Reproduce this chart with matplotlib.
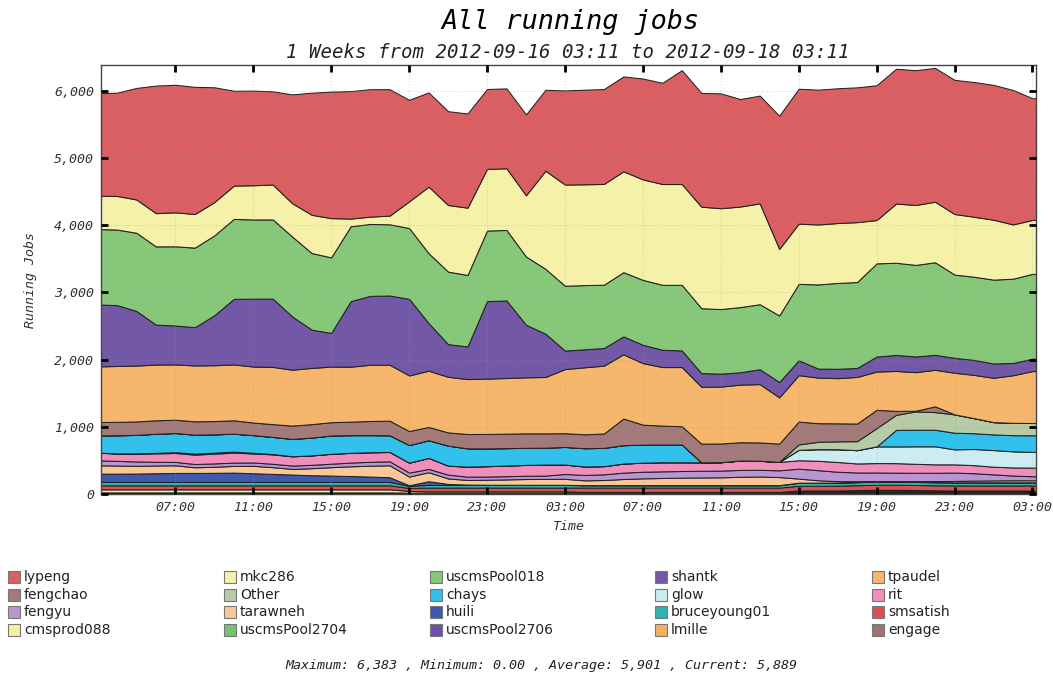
import matplotlib
matplotlib.use("Agg")
import matplotlib.pyplot as plt
from matplotlib.patches import Rectangle
from matplotlib.ticker import FuncFormatter

# hourly samples, hours since 2012-09-16 00:00 (03:00 day 1 .. 04:00 day 3)
hours = list(range(3, 53))

# legend order (row-major), also top-to-bottom stacking order
names = ["lypeng", "mkc286", "uscmsPool018", "shantk", "tpaudel",
         "fengchao", "Other", "chays", "glow", "rit",
         "fengyu", "tarawneh", "huili", "bruceyoung01", "smsatish",
         "cmsprod088", "uscmsPool2704", "uscmsPool2706", "lmille", "engage"]

colors = ["#da5f62", "#f6f1a8", "#86c77a", "#7258a6", "#f6b66c",
          "#a37a7a", "#b7cba6", "#31c1ec", "#cdecf1", "#f08fbc",
          "#b996d2", "#fac896", "#3e59b0", "#2db4af", "#dc5050",
          "#f5f0a0", "#78c36e", "#6e50a5", "#f5af64", "#a07373"]

lypeng = [1525, 1535, 1659, 1897, 1897, 1891, 1708, 1411, 1407, 1386,
          1619, 1816, 1881, 1896, 1895, 1880, 1510, 1401, 1395, 1401,
          1188, 1188, 1203, 1203, 1400, 1407, 1411, 1411, 1500, 1505,
          1693, 1692, 1708, 1599, 1603, 1980, 2006, 2005, 2004, 2005,
          2005, 2004, 2005, 1990, 1995, 2004, 2005, 2000, 1810, 1810]
mkc286 = [495, 500, 495, 495, 505, 500, 495, 495, 509, 519,
          496, 569, 584, 114, 109, 129, 396, 990, 991, 1000,
          917, 917, 910, 1460, 1505, 1499, 1499, 1500, 1495, 1499,
          1499, 1510, 1500, 1495, 1500, 990, 896, 891, 891, 891,
          644, 881, 891, 901, 901, 892, 891, 807, 802, 802]
uscmsPool018 = [1123, 1123, 1163, 1163, 1178, 1183, 1188, 1189, 1178, 1178,
                1188, 1139, 1124, 1114, 1069, 1059, 1054, 1039, 1078, 1064,
                1049, 1049, 1015, 965, 964, 955, 941, 955, 965, 966,
                976, 965, 960, 970, 966, 990, 1138, 1252, 1277, 1277,
                1386, 1371, 1362, 1376, 1238, 1237, 1247, 1253, 1262, 1262]
shantk = [921, 906, 812, 594, 579, 569, 743, 975, 1010, 1015,
          792, 569, 500, 975, 1025, 1030, 1139, 708, 486, 485,
          1153, 1153, 782, 643, 275, 268, 262, 267, 273, 257,
          247, 203, 193, 183, 222, 228, 220, 134, 139, 134,
          223, 238, 233, 223, 222, 223, 213, 183, 184, 184]
tpaudel = [827, 831, 831, 829, 822, 831, 830, 831, 832, 851,
           831, 836, 827, 817, 836, 832, 827, 837, 827, 817,
           823, 828, 833, 838, 954, 996, 1010, 955, 915, 871,
           881, 846, 846, 857, 867, 688, 690, 678, 672, 693,
           569, 594, 574, 544, 619, 643, 659, 708, 772, 772]
fengchao = [198, 200, 200, 200, 198, 199, 198, 199, 188, 190,
            198, 200, 198, 201, 210, 217, 208, 198, 197, 213,
            215, 215, 215, 213, 204, 207, 213, 396, 297, 282,
            272, 278, 278, 272, 272, 272, 340, 277, 268, 262,
            272, 59, 10, 85, 0, 0, 0, 0, 0, 0]
other = [0, 0, 0, 0, 0, 0, 0, 0, 0, 0,
         0, 0, 0, 0, 0, 0, 0, 0, 0, 0,
         0, 0, 0, 0, 0, 0, 0, 0, 0, 0,
         0, 0, 0, 0, 0, 0, 80, 109, 117, 134,
         272, 223, 272, 262, 273, 224, 183, 183, 183, 183]
chays = [257, 270, 275, 284, 285, 282, 272, 267, 262, 255,
         258, 265, 272, 263, 255, 248, 262, 262, 297, 272,
         264, 259, 254, 251, 262, 272, 272, 273, 268, 263,
         263, 0, 0, 0, 0, 0, 0, 0, 0, 0,
         0, 247, 247, 247, 247, 235, 233, 241, 247, 247]
glow = [0, 0, 5, 8, 12, 15, 15, 15, 10, 5,
        0, 0, 0, 0, 0, 0, 0, 0, 0, 0,
        0, 0, 0, 0, 0, 0, 0, 0, 0, 0,
        0, 0, 0, 0, 0, 0, 155, 173, 190, 198,
        248, 248, 260, 268, 223, 240, 247, 239, 233, 233]
rit = [114, 110, 115, 125, 133, 139, 145, 148, 134, 140,
       138, 140, 147, 145, 142, 139, 148, 164, 134, 149,
       154, 158, 161, 164, 140, 126, 121, 135, 135, 135,
       130, 125, 125, 140, 135, 125, 125, 140, 145, 134,
       140, 142, 133, 125, 123, 120, 114, 121, 129, 129]
fengyu = [74, 70, 65, 55, 50, 49, 50, 49, 50, 50,
          50, 50, 52, 55, 58, 59, 59, 49, 57, 49,
          48, 48, 49, 50, 72, 80, 85, 95, 98, 99,
          99, 100, 100, 102, 100, 100, 148, 150, 140, 130,
          128, 125, 125, 124, 124, 110, 90, 70, 60, 60]
tarawneh = [124, 120, 115, 115, 114, 84, 90, 100, 110, 100,
            84, 105, 125, 145, 162, 178, 129, 134, 81, 69,
            74, 80, 86, 87, 89, 71, 76, 91, 101, 106,
            111, 114, 116, 124, 128, 120, 60, 35, 20, 12,
            8, 8, 10, 15, 20, 25, 28, 30, 30, 30]
huili = [124, 124, 125, 130, 134, 134, 136, 139, 130, 120,
         110, 100, 95, 88, 80, 70, 10, 55, 15, 5,
         3, 2, 2, 2, 2, 2, 2, 2, 2, 2,
         2, 2, 2, 2, 2, 2, 2, 2, 2, 2,
         2, 2, 2, 2, 2, 2, 2, 2, 2, 2]
bruceyoung01 = [50, 50, 50, 50, 50, 50, 50, 50, 50, 50,
                50, 50, 50, 50, 50, 50, 30, 40, 40, 40,
                40, 40, 40, 40, 40, 35, 35, 35, 35, 35,
                35, 35, 35, 35, 35, 35, 45, 45, 45, 45,
                45, 45, 45, 45, 45, 45, 45, 45, 45, 45]
smsatish = [60, 60, 60, 60, 60, 60, 60, 60, 60, 60,
            60, 60, 60, 60, 60, 60, 45, 55, 55, 55,
            55, 55, 55, 55, 55, 65, 65, 65, 65, 65,
            65, 65, 65, 65, 65, 65, 70, 70, 72, 72,
            75, 75, 75, 75, 75, 75, 75, 75, 75, 75]
cmsprod088 = [45, 45, 45, 45, 45, 45, 45, 45, 45, 45,
              45, 45, 45, 45, 45, 45, 25, 20, 20, 20,
              20, 20, 20, 20, 20, 10, 10, 10, 10, 10,
              10, 10, 10, 10, 10, 10, 15, 15, 15, 15,
              15, 15, 15, 15, 15, 15, 15, 15, 15, 15]
uscmsPool2704 = [12, 12, 12, 12, 12, 12, 12, 12, 12, 12,
                 12, 12, 12, 12, 12, 12, 8, 8, 8, 8,
                 8, 8, 8, 8, 8, 8, 8, 8, 8, 8,
                 8, 8, 8, 8, 8, 8, 10, 10, 10, 10,
                 10, 10, 10, 10, 10, 10, 10, 10, 10, 10]
uscmsPool2706 = [4, 4, 4, 4, 4, 4, 4, 4, 4, 4,
                 4, 4, 4, 4, 4, 4, 4, 4, 4, 4,
                 4, 4, 4, 4, 4, 4, 4, 4, 4, 4,
                 4, 4, 4, 4, 4, 4, 5, 5, 5, 12,
                 15, 15, 12, 8, 5, 5, 5, 5, 5, 5]
lmille = [4, 4, 4, 4, 4, 4, 4, 4, 4, 4,
          4, 4, 4, 4, 4, 4, 4, 4, 4, 4,
          4, 4, 4, 4, 4, 4, 4, 4, 4, 4,
          4, 4, 4, 4, 4, 4, 10, 10, 10, 10,
          10, 10, 10, 10, 10, 10, 10, 10, 10, 10]
engage = [4, 4, 4, 4, 4, 4, 4, 4, 4, 4,
          4, 4, 4, 4, 4, 4, 4, 4, 4, 4,
          4, 4, 4, 4, 4, 4, 4, 4, 4, 4,
          4, 4, 4, 4, 4, 4, 12, 12, 12, 12,
          12, 12, 12, 12, 12, 12, 12, 12, 12, 12]

series = [lypeng, mkc286, uscmsPool018, shantk, tpaudel,
          fengchao, other, chays, glow, rit,
          fengyu, tarawneh, huili, bruceyoung01, smsatish,
          cmsprod088, uscmsPool2704, uscmsPool2706, lmille, engage]

tick_hours = [7, 11, 15, 19, 23, 27, 31, 35, 39, 43, 47, 51]
tick_labels = ["07:00", "11:00", "15:00", "19:00", "23:00", "03:00",
               "07:00", "11:00", "15:00", "19:00", "23:00", "03:00"]
y_ticks = [0, 1000, 2000, 3000, 4000, 5000, 6000]

title = "All running jobs"
subtitle = "1 Weeks from 2012-09-16 03:11 to 2012-09-18 03:11"
stats = "Maximum: 6,383 , Minimum: 0.00 , Average: 5,901 , Current: 5,889"

plt.rcParams["font.family"] = "DejaVu Sans Mono"
plt.rcParams["font.style"] = "italic"

W, H = 1053, 677
fig = plt.figure(figsize=(W / 100, H / 100), dpi=100)
ax = fig.add_axes([101 / W, 1 - 494 / H, 935 / W, 429 / H])

ax.stackplot(hours, *series[::-1], colors=colors[::-1],
             edgecolor="#222222", linewidth=0.75)

ax.set_xlim(3 + 11 / 60, 51 + 11 / 60)
ax.set_ylim(0, 6380)
ax.set_xticks(tick_hours)
ax.set_xticklabels(tick_labels)
ax.set_yticks(y_ticks)
ax.yaxis.set_major_formatter(FuncFormatter(lambda v, p: f"{int(v):,}"))
ax.tick_params(direction="in", length=5, width=2, top=True, right=True,
               labelsize=9.5, labelcolor="#333333", color="black", pad=5)
ax.grid(True, linestyle=":", color="#999999", linewidth=0.8, alpha=0.35)
ax.set_axisbelow(False)
for s in ax.spines.values():
    s.set_linewidth(1.0)
    s.set_color("#444444")

ax.set_xlabel("Time", fontsize=9.5, color="#333333", labelpad=4)
ax.set_ylabel("Running Jobs", fontsize=9.5, color="#333333", labelpad=12)

fig.text(570 / W, 1 - 22 / H, title, ha="center", va="center",
         fontsize=19.4, color="black")
fig.text(568 / W, 1 - 52 / H, subtitle, ha="center", va="center",
         fontsize=13.7, color="#222222")

# legend (row-major, 5 columns)
col_x = [8, 224, 430, 655, 872]
row_y = [577, 595, 612, 630]
for i, (nm, c) in enumerate(zip(names, colors)):
    r, cidx = divmod(i, 5)
    x0 = col_x[cidx]
    yc = row_y[r]
    fig.patches.append(Rectangle((x0 / W, 1 - (yc + 6) / H), 12 / W, 12 / H,
                                 transform=fig.transFigure, facecolor=c,
                                 edgecolor="#777777", linewidth=0.8))
    fig.text((x0 + 16) / W, 1 - yc / H, nm, ha="left", va="center",
             fontsize=10, family="DejaVu Sans", style="normal", color="#222222")

fig.text(541 / W, 1 - 665 / H, stats, ha="center", va="center",
         fontsize=9.6, color="#222222")

fig.savefig("out.png", dpi=100)
